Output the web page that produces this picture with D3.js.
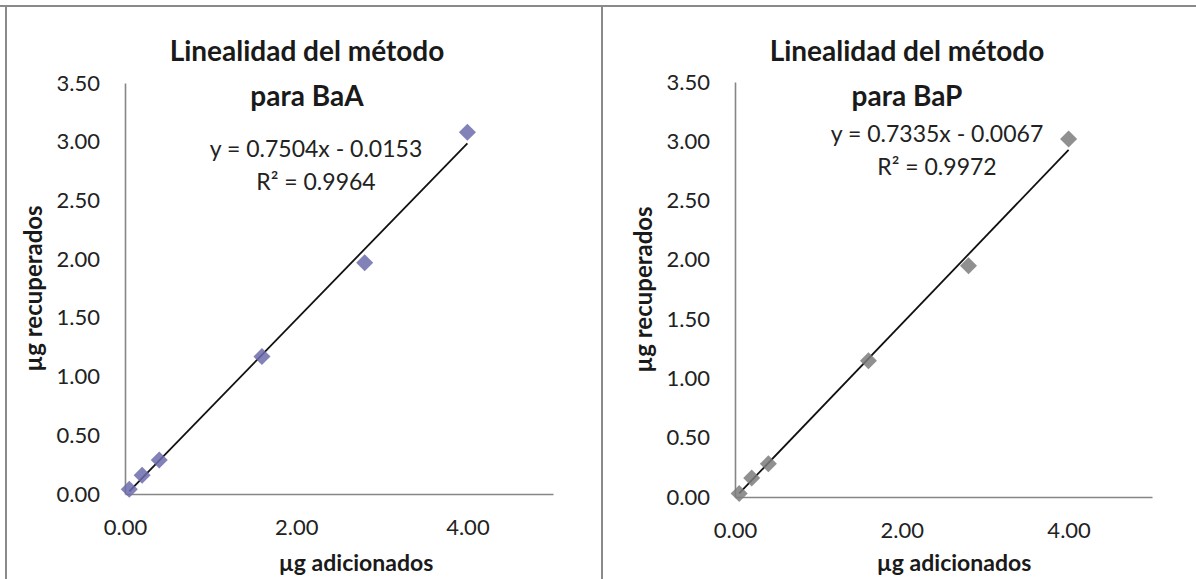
<!DOCTYPE html>
<html>
<head>
<meta charset="utf-8">
<script src="https://cdn.jsdelivr.net/npm/d3@7"></script>
<style>
  body { margin: 0; background: #fff; }
  svg { display: block; font-family: Lato, 'Open Sans', sans-serif; }
</style>
</head>
<body>
<svg id="chart" width="1196" height="579"></svg>
<script>
// µg added (x) and recovered (y)
const addedBaA = [0.05, 0.2, 0.4, 1.6, 2.8, 4.0]
const recoveredBaA = [0.04, 0.16, 0.29, 1.17, 1.97, 3.08]
const addedBaP = [0.05, 0.2, 0.4, 1.6, 2.8, 4.0]
const recoveredBaP = [0.03, 0.16, 0.28, 1.15, 1.95, 3.02]

// trend lines as printed on the charts
const slopes = [0.7504, 0.7335]
const intercepts = [-0.0153, -0.0067]
const equationLabels = ['y = 0.7504x - 0.0153', 'y = 0.7335x - 0.0067']
const r2Labels = ['R² = 0.9964', 'R² = 0.9972']

const titles = [['Linealidad del método', 'para BaA'], ['Linealidad del método', 'para BaP']]
const yTicks = [0, 0.5, 1, 1.5, 2, 2.5, 3, 3.5]
const xTicks = [0, 2, 4]

const svg = d3.select('#chart')

// frame lines
const FRAME = '#8a8a8a'
svg.append('line').attr('x1', 0).attr('x2', 1196).attr('y1', 6).attr('y2', 6)
  .attr('stroke', FRAME).attr('stroke-width', 2)
svg.append('line').attr('x1', 6).attr('x2', 6).attr('y1', 6).attr('y2', 579)
  .attr('stroke', FRAME).attr('stroke-width', 2)
svg.append('line').attr('x1', 602).attr('x2', 602).attr('y1', 6).attr('y2', 579)
  .attr('stroke', FRAME).attr('stroke-width', 2)

function scatter(opts) {
  const { xs, ys, slope, intercept, eq, r2, title, color, box } = opts

  const x = d3.scaleLinear().domain([0, 5]).range([box.left, box.right])
  const y = d3.scaleLinear().domain([0, 3.5]).range([box.bottom, box.top])
  const g = svg.append('g')

  // axes (no tick marks, just the line and labels)
  g.append('g')
    .attr('transform', `translate(${box.left},0)`)
    .call(d3.axisLeft(y).tickValues(yTicks).tickSize(0).tickPadding(25).tickFormat(d3.format('.2f')))
  g.append('g')
    .attr('transform', `translate(0,${box.bottom})`)
    .call(d3.axisBottom(x).tickValues(xTicks).tickSize(0).tickPadding(25).tickFormat(d3.format('.2f')))
  g.selectAll('.domain').attr('stroke', '#868686').attr('stroke-width', 1.6)
  g.selectAll('.tick text')
    .attr('font-family', 'Lato, sans-serif')
    .attr('font-size', 22)
    .attr('fill', '#222')

  // title
  const cx = box.titleX
  g.append('text').attr('x', cx).attr('y', 61).attr('text-anchor', 'middle')
    .attr('font-size', 28).attr('font-weight', 'bold').attr('fill', '#1a1a1a').text(title[0])
  g.append('text').attr('x', cx).attr('y', 106).attr('text-anchor', 'middle')
    .attr('font-size', 28).attr('font-weight', 'bold').attr('fill', '#1a1a1a').text(title[1])

  // axis titles
  g.append('text').attr('x', box.xTitleX).attr('y', 571)
    .attr('text-anchor', 'middle').attr('font-size', 23).attr('font-weight', 'bold')
    .attr('fill', '#1a1a1a').text('µg adicionados')
  g.append('text')
    .attr('transform', `translate(${box.left - 83},${(box.top + box.bottom) / 2}) rotate(-90)`)
    .attr('text-anchor', 'middle').attr('font-size', 24).attr('font-weight', 'bold')
    .attr('fill', '#1a1a1a').text('µg recuperados')

  // trend line across the data range
  const x0 = d3.min(xs), x1 = d3.max(xs)
  g.append('line')
    .attr('x1', x(x0)).attr('y1', y(slope * x0 + intercept))
    .attr('x2', x(x1)).attr('y2', y(slope * x1 + intercept))
    .attr('stroke', '#111').attr('stroke-width', 1.8)

  // points (diamonds)
  const sym = d3.symbol(d3.symbolSquare, 145)
  g.selectAll('path.pt').data(xs.map((v, i) => [v, ys[i]])).enter()
    .append('path').attr('class', 'pt')
    .attr('d', sym)
    .attr('transform', d => `translate(${x(d[0])},${y(d[1])}) rotate(45)`)
    .attr('fill', color).attr('opacity', 0.85)

  // equation
  g.append('text').attr('x', box.eqX).attr('y', box.eqY).attr('text-anchor', 'middle')
    .attr('font-size', 23).attr('fill', '#222').text(eq)
  g.append('text').attr('x', box.eqX).attr('y', box.eqY + 33).attr('text-anchor', 'middle')
    .attr('font-size', 23).attr('fill', '#222').text(r2)
}

scatter({
  xs: addedBaA, ys: recoveredBaA, slope: slopes[0], intercept: intercepts[0],
  eq: equationLabels[0], r2: r2Labels[0], title: titles[0], color: '#6c6cab',
  box: { left: 125, right: 553, top: 83, bottom: 494, titleX: 307, xTitleX: 356, eqX: 316, eqY: 157 }
})
scatter({
  xs: addedBaP, ys: recoveredBaP, slope: slopes[1], intercept: intercepts[1],
  eq: equationLabels[1], r2: r2Labels[1], title: titles[1], color: '#7d7d7d',
  box: { left: 735, right: 1152, top: 82, bottom: 497, titleX: 907, xTitleX: 954, eqX: 937, eqY: 142 }
})
</script>
</body>
</html>
